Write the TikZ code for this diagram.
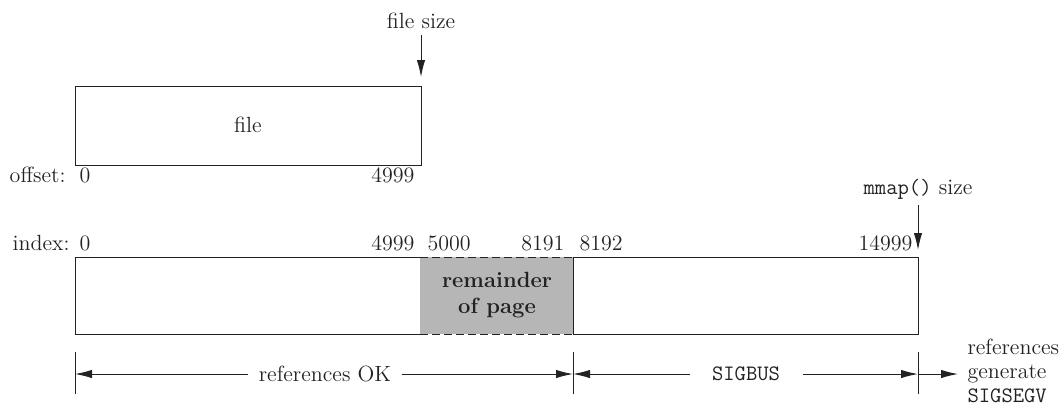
\documentclass[tikz,border=0pt]{standalone}
\usepackage{fontspec}
\usepackage{tikz}
\usetikzlibrary{arrows.meta}
\definecolor{PageGray}{HTML}{B6B6B6}
\definecolor{InkBlack}{HTML}{222222}

\begin{document}
\begin{tikzpicture}[x=0.5pt,y=-0.5pt, line width=0.5pt, draw=InkBlack,
  every node/.style={font=\fontsize{11}{12}\selectfont, inner sep=0pt, text=InkBlack},
  tip/.style={-{Latex[length=8.5pt,width=4.2pt]}}]
  \useasboundingbox (0,0) rectangle (1064,409);
  % file on disk
  \draw (75,86) rectangle (421,165);
  \node (file) at (248,125) {file};
  \node[anchor=south] (fsize) at (421,29) {file size};
  \coordinate (ftop) at (421,77);
  \draw[tip] (fsize.south) ++(0,6) -- (ftop);
  \node[anchor=base east] (offset) at (66,182) {offset:};
  \node[anchor=base west] (off0) at (79,182) {0};
  \node[anchor=base east] (off4999) at (415,182) {4999};
  % mapped region
  \draw (75,257) rectangle (420,334);
  \fill[PageGray] (420,257) rectangle (573,334);
  \draw[dashed, dash pattern=on 4pt off 2pt] (420,257) -- (573,257) (420,334) -- (573,334);
  \draw (573,257) rectangle (918,334);
  \node[font=\fontsize{11}{13}\selectfont\bfseries, align=center] (rem) at (497,295) {remainder\\of page};
  \node[anchor=base east] (index) at (70,250) {index:};
  \foreach \x/\t/\a in {79/0/west, 415/4999/east, 427/5000/west,
                        565/8191/east, 579/8192/west, 913/14999/east} {
    \node[anchor=base \a] (idx\t) at (\x,250) {\t};
  }
  \node[anchor=south] (msize) at (918,200) {\texttt{mmap()} size};
  \coordinate (mtop) at (918,250);
  \draw[tip] (msize.south) ++(0,5) -- (mtop);
  % references
  \foreach \x [count=\i from 0] in {75,573,918} {
    \coordinate (t\i) at (\x,374);
    \draw (\x,352) -- (\x,394);
  }
  \node[inner xsep=5pt] (refok) at (325,374) {references OK};
  \node[inner xsep=11pt] (sigbus) at (746,374) {\texttt{SIGBUS}};
  \draw[tip] (refok.west) -- (t0);
  \draw[tip] (refok.east) -- (t1);
  \draw[tip] (sigbus.west) -- (t1);
  \draw[tip] (sigbus.east) -- (t2);
  \node[anchor=west, align=left, inner xsep=4.5pt] (segv) at (958,371) {references\\generate\\\texttt{SIGSEGV}};
  \draw[tip] (t2) -- (t2 -| segv.west);
\end{tikzpicture}
\end{document}
